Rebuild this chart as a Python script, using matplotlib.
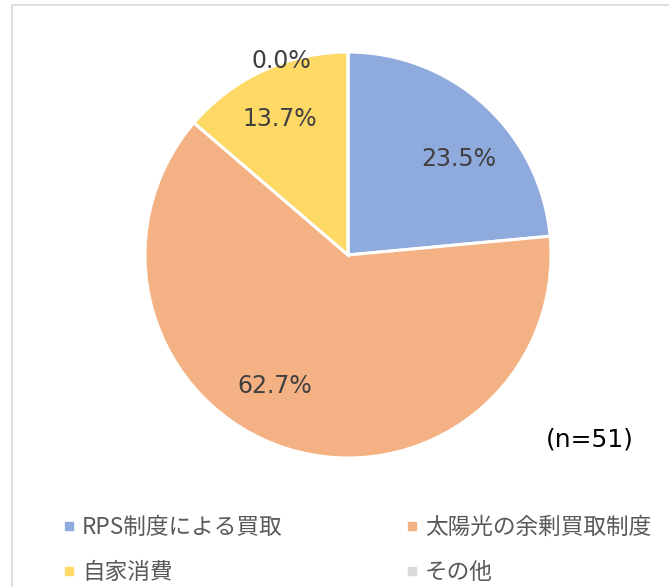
import matplotlib
matplotlib.use("Agg")
import matplotlib.pyplot as plt
from matplotlib.lines import Line2D
from matplotlib.patches import Rectangle
import numpy as np

plt.rcParams['font.family'] = ['DejaVu Sans', 'Noto Sans CJK JP']

categories = ['RPS制度による買取', '太陽光の余剰買取制度', '自家消費', 'その他']
values = [23.5, 62.7, 13.7, 0.0]
colors = ['#8FAADC', '#F4B183', '#FFD966', '#D9D9D9']
note = '(n=51)'

W, H = 669, 587
fig = plt.figure(figsize=(W/100, H/100), dpi=100)

# border
fig.patches.append(Rectangle((12/W, -0.01), 1.0, (H-5)/H + 0.01, transform=fig.transFigure,
                             fill=False, edgecolor='#D9D9D9', linewidth=1.2))

cx, cy, r = 348, 255, 203
ax = fig.add_axes([(cx-r)/W, (H-cy-r)/H, 2*r/W, 2*r/H])
wedges, texts = ax.pie(values, colors=colors, startangle=90, counterclock=False,
                       wedgeprops=dict(edgecolor='white', linewidth=2.2))
ax.set_xlim(-1, 1)
ax.set_ylim(-1, 1)
ax.set_aspect('auto')

# label positions (angle in degrees, radius fraction)
label_pos = [(41, 0.72), (-119, 0.74), (116.7, 0.75), (109, 1.01)]
for v, (a, rr) in zip(values, label_pos):
    ax.text(rr*np.cos(np.radians(a)), rr*np.sin(np.radians(a)), f'{v:.1f}%',
            ha='center', va='center', fontsize=17, color='#404040')

fig.text(590/W, 1-440/H, note, ha='center', va='center', fontsize=18, color='#000000')

order = [0, 2, 1, 3]
handles = [Line2D([], [], marker='s', linestyle='none', markersize=5.3, color=colors[i]) for i in order]
labels = [categories[i] for i in order]
leg = fig.legend(handles, labels, loc='upper left', bbox_to_anchor=(54/W, 1-507/H), ncol=2,
                 frameon=False, fontsize=16.3, handlelength=0.5, handletextpad=0.34,
                 columnspacing=5.44, labelspacing=0.98, borderaxespad=0)
for t in leg.get_texts():
    t.set_color('#595959')
    t.set_fontfamily(['Noto Sans CJK JP', 'DejaVu Sans'])

fig.savefig('out.png', dpi=100)
